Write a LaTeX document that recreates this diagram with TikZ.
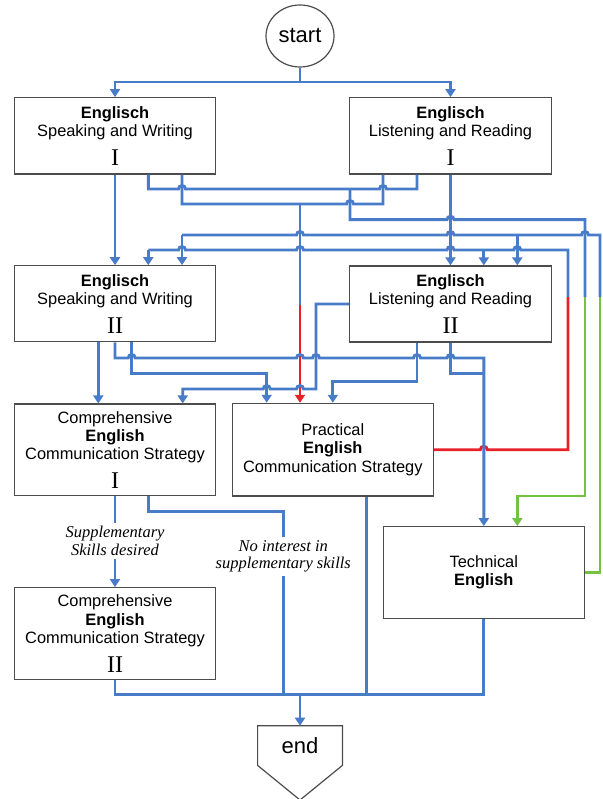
\documentclass[tikz,border=0pt]{standalone}
\usepackage{fontspec}
\setmainfont{Liberation Serif}
\setsansfont{Liberation Sans}
\usetikzlibrary{arrows.meta,shapes.geometric}
\definecolor{cblue}{RGB}{72,124,200}
\definecolor{cred}{RGB}{232,32,40}
\definecolor{cgreen}{RGB}{118,192,66}
\newcommand\boxfont{\fontsize{16.4}{18.3}\selectfont\sffamily}
\newcommand\labfont{\fontsize{16.5}{17.5}\selectfont\rmfamily\itshape}
\newcommand\rnum[1]{\raisebox{0pt}[11pt][0pt]{\fontsize{24}{24}\selectfont\rmfamily #1}}
% line jumps on horizontal wires: left-to-right and right-to-left
\newcommand\jmp[2]{-- ({#1-3.5},#2) .. controls ({#1-3.5},{#2-4.5}) and ({#1+3.5},{#2-4.5}) .. ({#1+3.5},#2)}
\newcommand\jmpl[2]{-- ({#1+3.5},#2) .. controls ({#1+3.5},{#2-4.5}) and ({#1-3.5},{#2-4.5}) .. ({#1-3.5},#2)}
\tikzset{
  wire/.style={draw=cblue, line width=2.9pt},
  rwire/.style={draw=cred, line width=2.9pt},
  gwire/.style={draw=cgreen, line width=2.9pt},
  arr/.style={-{Triangle[width=10pt,length=8pt]}},
  box/.style={draw=black!70, line width=1.2pt, rectangle, align=center, inner sep=0pt,
              font=\boxfont, minimum width=201.4pt},
  ell/.style={draw=black!70, line width=1.2pt, ellipse, inner sep=0pt,
              minimum width=68pt, minimum height=62pt, font=\fontsize{22}{24}\selectfont\sffamily},
  lab/.style={font=\labfont, align=center, inner sep=3pt},
}
\begin{document}
\begin{tikzpicture}[x=1pt,y=-1pt]
\useasboundingbox[fill=white] (0,0) rectangle (602,799);

% columns
\foreach \n/\v in {X98/98.3,X132/131.7,X148/148.3,X182/182,X183/182.7,X267/266.7,X300/300,
                   X367/366.7,X383/383,X417/417,X484/483.8,X517/517.3}
  {\coordinate (\n) at (\v,0);}

% nodes
\node[ell] (start) at (300,36) {start};
\node[box, minimum height=76.3pt] (sw1) at (115,135.9)
  {{\bfseries Englisch}\\Speaking and Writing\\[10.5pt]\rnum{I}};
\node[box, minimum height=76.3pt] (lr1) at (450.5,135.9)
  {{\bfseries Englisch}\\Listening and Reading\\[10.5pt]\rnum{I}};
\node[box, minimum height=76pt] (sw2) at (115,303.8)
  {{\bfseries Englisch}\\Speaking and Writing\\[10.5pt]\rnum{II}};
\node[box, minimum height=76pt] (lr2) at (450.5,304)
  {{\bfseries Englisch}\\Listening and Reading\\[10.5pt]\rnum{II}};
\node[box, minimum height=91.7pt] (ces1) at (115,449.9)
  {Comprehensive\\{\bfseries English}\\Communication Strategy\\[10.5pt]\rnum{I}};
\node[box, minimum height=92.7pt] (prac) at (332.8,449.7)
  {Practical\\{\bfseries English}\\Communication Strategy};
\node[box, minimum height=91.6pt] (tech) at (483.8,572.5)
  {Technical\\{\bfseries English}};
\node[box, minimum height=91.6pt] (ces2) at (115,633.5)
  {Comprehensive\\{\bfseries English}\\Communication Strategy\\[10.5pt]\rnum{II}};
\node[inner sep=0pt, minimum width=84.4pt, minimum height=39.3pt, anchor=north,
      font=\fontsize{22}{24}\selectfont\sffamily] (endn) at (300,725.7) {end};
\draw[draw=black!70, line width=1.2pt] (endn.north west) -- (endn.north east) -- (endn.south east)
  -- (300,800) -- (endn.south west) -- cycle;

\node[lab] (lab1) at (115,541) {Supplementary\\Skills desired};
\node[lab] (lab2) at (283.3,556.5) {No interest in\\supplementary skills};

% start
\draw[wire,arr] (start.south) -- (300,82) -| (sw1.north);
\draw[wire,arr] (300,82) -| (lr1.north);

% direct
\draw[wire,arr] (sw1.south) -- (sw2.north);
\draw[wire,arr] (lr1.south) -- (lr2.north);

% row A -> row D -> Technical (green)
\draw[wire] (sw1.south -| X148) -- (148.3,189) \jmp{182}{189} \jmp{383}{189} -- (417,189) -- (lr1.south -| X417);
\draw[wire] (350,189) -- (350,219.7) \jmp{450.5}{219.7} -- (585,219.7) -- (585,297);
\draw[gwire,arr] (585,297) -- (585,496) -- (517.3,496) -- (tech.north -| X517);

% row B -> Practical (red)
\draw[wire] (sw1.south -| X182) -- (182,204) \jmp{350}{204} -- (383,204) -- (lr1.south -| X383);
\draw[wire] (300,204) -- (300,305);
\draw[rwire,arr] (300,305) -- (prac.north -| X300);

% row E
\draw[wire] (182,235) \jmp{300}{235} \jmp{450.5}{235} \jmp{585}{235} -- (600,235) -- (600,297);
\draw[wire,arr] (182,235) -- (sw2.north -| X182);
\draw[wire,arr] (517.3,235) -- (lr2.north -| X517);
\draw[gwire] (600,297) |- (tech.east);

% row C
\draw[wire] (148.3,250) \jmp{182}{250} \jmp{300}{250} \jmp{450.5}{250} \jmp{517.3}{250} -- (568,250) -- (568,297);
\draw[wire,arr] (148.3,250) -- (sw2.north -| X148);
\draw[wire,arr] (483.8,250) -- (lr2.north -| X484);
\draw[rwire] (568,297) -- (568,449.7) \jmpl{483.8}{449.7} -- (prac.east);

% SW2 outputs
\draw[wire,arr] (sw2.south -| X98) -- (ces1.north -| X98);
\draw[wire,arr] (sw2.south) -- (115,358) \jmp{131.7}{358} \jmp{300}{358} \jmp{316}{358} \jmp{417}{358} \jmp{450.5}{358}
  -- (483.8,358) -- (tech.north);
\draw[wire,arr] (sw2.south -| X132) -- (131.7,373.3) -- (266.7,373.3) -- (prac.north -| X267);

% LR2 outputs
\draw[wire,arr] (lr2.west) -- (316,304) -- (316,389) \jmpl{300}{389} \jmpl{266.7}{389} -- (182.7,389) -- (ces1.north -| X183);
\draw[wire,arr] (lr2.south -| X417) -- (417,381.7) -- (332.8,381.7) -- (prac.north);
\draw[wire] (lr2.south) -- (450.5,373.3) -- (483.8,373.3);

% CES I outputs
\draw[wire] (ces1.south) -- (lab1.north);
\draw[wire,arr] (lab1.south) -- (ces2.north);
\draw[wire] (ces1.south -| X148) -- (148.3,511.7) -- (283.3,511.7) -- (lab2.north);
\draw[wire] (lab2.south) -- (283.3,694.5);

% to end
\draw[wire] (ces2.south) -- (115,694.5) -- (483.8,694.5) -- (tech.south);
\draw[wire] (prac.south -| X367) -- (366.7,694.5);
\draw[wire,arr] (300,694.5) -- (endn.north);
\end{tikzpicture}
\end{document}
